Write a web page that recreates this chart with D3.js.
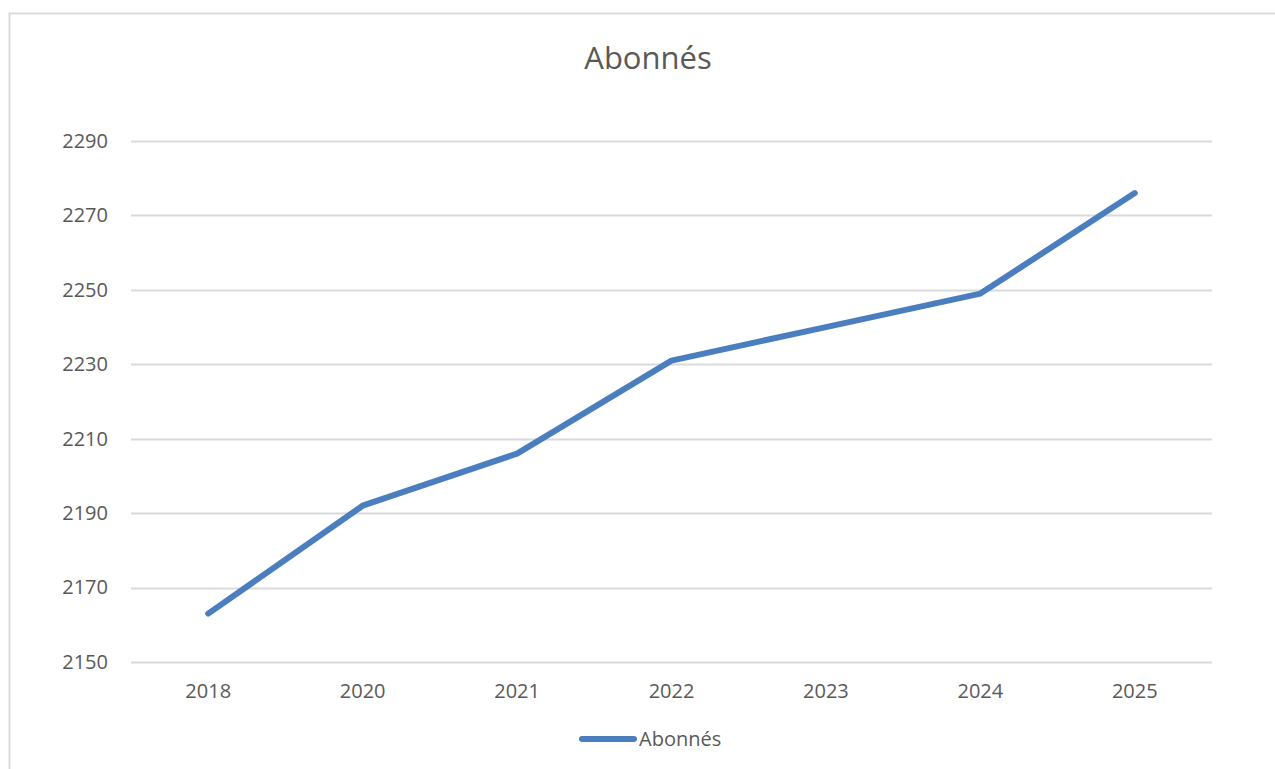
<!DOCTYPE html>
<html>
<head>
<meta charset="utf-8">
<script src="https://cdn.jsdelivr.net/npm/d3@7"></script>
<style>
  html, body { margin: 0; padding: 0; background: #fff; }
  svg { display: block; font-family: 'Open Sans', sans-serif; }
</style>
</head>
<body>
<div id="chart"></div>
<script>
const title = 'Abonnés';
const seriesName = 'Abonnés';
const years = ['2018', '2020', '2021', '2022', '2023', '2024', '2025'];
const subscribers = [2163, 2192, 2206, 2231, 2240, 2249, 2276];
const yTicks = [2150, 2170, 2190, 2210, 2230, 2250, 2270, 2290];

const width = 1275;
const height = 769;
const margin = { top: 141, right: 63, bottom: 107, left: 131 };
const lineColor = '#4a7ebf';
const textColor = '#595959';

const svg = d3.select('#chart').append('svg')
  .attr('width', width)
  .attr('height', height);

// chart frame (only top + left edges visible in the crop)
svg.append('path')
  .attr('d', `M9.5,${height}V13.5H${width}`)
  .attr('fill', 'none')
  .attr('stroke', '#d9d9d9')
  .attr('stroke-width', 2);

const x = d3.scaleBand()
  .domain(years)
  .range([margin.left, width - margin.right]);

const y = d3.scaleLinear()
  .domain([2150, 2290])
  .range([height - margin.bottom, margin.top]);

// gridlines
svg.append('g')
  .selectAll('line')
  .data(yTicks)
  .join('line')
  .attr('x1', margin.left)
  .attr('x2', width - margin.right)
  .attr('y1', d => Math.round(y(d)) + 0.5)
  .attr('y2', d => Math.round(y(d)) + 0.5)
  .attr('stroke', '#d9d9d9')
  .attr('stroke-width', 2);

// y axis labels
const yAxis = svg.append('g')
  .attr('transform', `translate(${margin.left},0)`)
  .call(d3.axisLeft(y).tickValues(yTicks).tickFormat(d3.format('d')).tickSize(0).tickPadding(23));
yAxis.select('.domain').remove();
yAxis.selectAll('text')
  .attr('fill', textColor)
  .style('font-size', '20px')
  .style('font-family', "'Open Sans', sans-serif");

// x axis labels
const xAxis = svg.append('g')
  .attr('transform', `translate(0,${height - margin.bottom})`)
  .call(d3.axisBottom(x).tickSize(0).tickPadding(22));
xAxis.select('.domain').remove();
xAxis.selectAll('text')
  .attr('fill', textColor)
  .style('font-size', '20px')
  .style('font-family', "'Open Sans', sans-serif");

// series line
const line = d3.line()
  .x((d, i) => x(years[i]) + x.bandwidth() / 2)
  .y(d => y(d));

svg.append('path')
  .datum(subscribers)
  .attr('d', line)
  .attr('fill', 'none')
  .attr('stroke', lineColor)
  .attr('stroke-width', 6)
  .attr('stroke-linecap', 'round')
  .attr('stroke-linejoin', 'round');

// title
svg.append('text')
  .attr('x', 648)
  .attr('y', 69)
  .attr('text-anchor', 'middle')
  .attr('fill', textColor)
  .style('font-size', '31px')
  .text(title);

// legend
const legend = svg.append('g').attr('transform', 'translate(582,739)');
legend.append('line')
  .attr('x1', 0)
  .attr('x2', 52)
  .attr('stroke', lineColor)
  .attr('stroke-width', 6)
  .attr('stroke-linecap', 'round');
legend.append('text')
  .attr('x', 57)
  .attr('y', 7)
  .attr('fill', textColor)
  .style('font-size', '20px')
  .text(seriesName);
</script>
</body>
</html>
